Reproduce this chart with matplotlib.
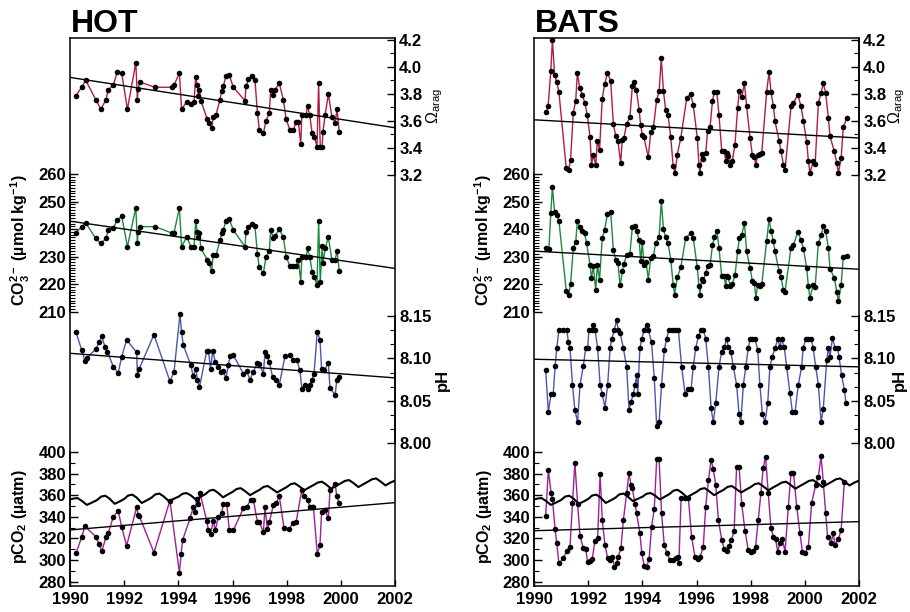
import matplotlib
matplotlib.use('Agg')
import matplotlib.pyplot as plt
import numpy as np

plt.rcParams['font.family'] = ['Liberation Sans', 'DejaVu Sans']
plt.rcParams['mathtext.fontset'] = 'custom'
plt.rcParams['mathtext.rm'] = 'Liberation Sans'
plt.rcParams['mathtext.it'] = 'Liberation Sans:italic'
plt.rcParams['mathtext.bf'] = 'Liberation Sans:bold'

# ---------------- HOT ----------------
hot_om_t = [1990.22, 1990.43, 1990.58, 1990.95, 1991.14, 1991.33, 1991.41, 1991.60, 1991.75, 1991.91,
            1992.12, 1992.43, 1992.49, 1992.51, 1992.58, 1993.14, 1993.75, 1993.84, 1994.04, 1994.12,
            1994.31, 1994.46, 1994.58, 1994.64, 1994.70, 1994.74, 1994.78, 1994.83, 1995.07, 1995.14,
            1995.23, 1995.29, 1995.39, 1995.54, 1995.60, 1995.66, 1995.76, 1995.88, 1996.03, 1996.46,
            1996.50, 1996.59, 1996.71, 1996.83, 1996.92, 1996.99, 1997.14, 1997.24, 1997.36, 1997.41,
            1997.51, 1997.56, 1997.73, 1997.88, 1997.98, 1998.12, 1998.25, 1998.35, 1998.43, 1998.52,
            1998.56, 1998.72, 1998.77, 1998.85, 1998.94, 1999.02, 1999.12, 1999.18, 1999.24, 1999.31,
            1999.34, 1999.42, 1999.54, 1999.67, 1999.79, 1999.86, 1999.94]
hot_omega = [3.786, 3.848, 3.90, 3.757, 3.685, 3.757, 3.828, 3.865, 3.964, 3.951,
             3.685, 4.030, 3.753, 3.833, 3.887, 3.848, 3.848, 3.865, 3.951, 3.685,
             3.741, 3.724, 3.741, 3.922, 3.865, 3.786, 3.828, 3.749, 3.611, 3.581,
             3.544, 3.630, 3.643, 3.757, 3.823, 3.857, 3.931, 3.939, 3.848, 3.749,
             3.857, 3.906, 3.931, 3.90, 3.660, 3.532, 3.507, 3.600, 3.660, 3.828,
             3.791, 3.828, 3.877, 3.753, 3.611, 3.532, 3.532, 3.593, 3.593, 3.428,
             3.643, 3.643, 3.71, 3.643, 3.507, 3.482, 3.408, 3.877, 3.408, 3.408,
             3.519, 3.643, 3.798, 3.630, 3.586, 3.685, 3.519]
hot_co3 = [238.6, 240.9, 242.3, 236.6, 234.8, 236.6, 239.7, 240.5, 243.3, 244.7,
           233.6, 247.8, 234.8, 239.0, 240.9, 240.9, 238.6, 238.6, 247.8, 233.6,
           237.2, 233.6, 233.6, 242.9, 239.0, 237.0, 238.4, 233.0, 228.9, 227.5,
           224.8, 230.5, 230.5, 236.0, 238.4, 239.7, 243.0, 243.6, 239.7, 233.6,
           239.0, 240.9, 242.0, 241.0, 230.9, 226.2, 223.9, 230.0, 232.1, 239.7,
           236.6, 237.4, 239.9, 237.0, 230.0, 226.5, 226.5, 226.5, 228.9, 220.8,
           230.0, 230.0, 233.0, 230.0, 224.5, 222.7, 219.6, 243.0, 220.8, 233.8,
           227.5, 233.0, 237.0, 228.9, 228.8, 232.1, 224.8]

hot_ph_t = [1990.22, 1990.43, 1990.55, 1990.64, 1990.95, 1991.08, 1991.17, 1991.29, 1991.38, 1991.60,
            1991.78, 1991.91, 1992.09, 1992.46, 1992.49, 1992.56, 1993.10, 1993.69, 1993.84, 1994.06,
            1994.12, 1994.18, 1994.46, 1994.55, 1994.65, 1994.70, 1994.78, 1995.05, 1995.11, 1995.19,
            1995.27, 1995.36, 1995.48, 1995.57, 1995.64, 1995.76, 1995.85, 1995.91, 1996.03, 1996.40,
            1996.52, 1996.65, 1996.77, 1996.92, 1996.99, 1997.14, 1997.20, 1997.26, 1997.36, 1997.48,
            1997.61, 1997.73, 1997.94, 1998.12, 1998.25, 1998.37, 1998.49, 1998.56, 1998.68, 1998.77,
            1998.86, 1998.92, 1999.01, 1999.13, 1999.23, 1999.29, 1999.38, 1999.54, 1999.60, 1999.79,
            1999.85, 1999.94]
hot_ph = [8.131, 8.110, 8.097, 8.101, 8.111, 8.119, 8.126, 8.114, 8.108, 8.090,
          8.083, 8.102, 8.122, 8.107, 8.080, 8.088, 8.128, 8.073, 8.084, 8.152,
          8.131, 8.116, 8.092, 8.079, 8.088, 8.075, 8.066, 8.109, 8.109, 8.088,
          8.109, 8.096, 8.090, 8.084, 8.085, 8.077, 8.092, 8.103, 8.104, 8.082,
          8.085, 8.075, 8.084, 8.095, 8.093, 8.082, 8.108, 8.103, 8.096, 8.078,
          8.075, 8.069, 8.103, 8.104, 8.098, 8.098, 8.086, 8.064, 8.069, 8.064,
          8.069, 8.074, 8.082, 8.131, 8.122, 8.087, 8.086, 8.094, 8.065, 8.057,
          8.074, 8.078]

hot_pco2_t = [1990.22, 1990.43, 1990.55, 1990.95, 1991.08, 1991.17, 1991.33, 1991.41, 1991.60, 1991.78,
              1991.91, 1992.09, 1992.46, 1992.52, 1992.56, 1993.10, 1993.69, 1994.04, 1994.10, 1994.16,
              1994.43, 1994.55, 1994.62, 1994.68, 1994.74, 1994.80, 1995.05, 1995.11, 1995.19, 1995.29,
              1995.36, 1995.48, 1995.60, 1995.66, 1995.79, 1995.88, 1996.03, 1996.40, 1996.52, 1996.67,
              1996.77, 1996.92, 1996.99, 1997.14, 1997.20, 1997.29, 1997.36, 1997.51, 1997.61, 1997.73,
              1997.90, 1998.10, 1998.22, 1998.35, 1998.56, 1998.64, 1998.77, 1998.86, 1998.92, 1998.99,
              1999.13, 1999.23, 1999.29, 1999.42, 1999.54, 1999.60, 1999.79, 1999.85, 1999.94]
hot_pco2 = [306.0, 321.1, 331.1, 321.7, 314.8, 307.9, 321.1, 324.8, 339.9, 345.6,
            330.5, 313.2, 348.8, 341.5, 340.6, 306.9, 355.0, 288.0, 305.3, 318.6,
            338.4, 348.8, 344.6, 356.3, 351.9, 362.0, 336.2, 327.4, 324.2, 336.2,
            327.4, 339.9, 343.1, 351.9, 351.9, 327.4, 327.4, 347.9, 348.8, 355.7,
            355.7, 335.2, 335.2, 325.8, 348.8, 328.9, 335.2, 350.9, 352.5, 358.8,
            329.9, 328.9, 334.2, 335.2, 365.1, 358.8, 355.7, 348.8, 348.8, 348.8,
            305.3, 314.2, 344.6, 346.2, 338.4, 364.4, 370.8, 358.8, 352.5]

hot_trend_omega = [3.921, 3.548]
hot_trend_co3 = [242.9, 225.7]
hot_trend_ph = [8.106, 8.077]
hot_trend_pco2 = [327.8, 353.1]

# ---------------- BATS ----------------
bats_om_t = [1990.46, 1990.52, 1990.62, 1990.68, 1990.76, 1990.84, 1990.92, 1991.19, 1991.28, 1991.35,
             1991.45, 1991.54, 1991.60, 1991.69, 1991.78, 1991.88, 1991.97, 1992.07, 1992.12, 1992.19,
             1992.28, 1992.34, 1992.42, 1992.52, 1992.61, 1992.71, 1992.83, 1992.93, 1993.02, 1993.10,
             1993.20, 1993.26, 1993.32, 1993.42, 1993.54, 1993.63, 1993.69, 1993.78, 1993.88, 1993.94,
             1994.00, 1994.06, 1994.22, 1994.31, 1994.41, 1994.53, 1994.62, 1994.70, 1994.78, 1994.86,
             1994.95, 1995.05, 1995.14, 1995.21, 1995.29, 1995.42, 1995.64, 1995.78, 1995.88, 1996.03,
             1996.09, 1996.13, 1996.19, 1996.25, 1996.34, 1996.41, 1996.50, 1996.59, 1996.66, 1996.75,
             1996.83, 1996.93, 1997.02, 1997.08, 1997.11, 1997.18, 1997.24, 1997.32, 1997.42, 1997.52,
             1997.58, 1997.67, 1997.77, 1997.85, 1997.98, 1998.06, 1998.14, 1998.19, 1998.26, 1998.35,
             1998.41, 1998.59, 1998.68, 1998.75, 1998.84, 1998.90, 1999.05, 1999.12, 1999.21, 1999.27,
             1999.49, 1999.58, 1999.74, 1999.86, 1999.95, 2000.07, 2000.13, 2000.19, 2000.31, 2000.38,
             2000.50, 2000.60, 2000.68, 2000.77, 2000.87, 2000.93, 2001.09, 2001.18, 2001.24, 2001.34,
             2001.42, 2001.55]
bats_omega = [3.664, 3.706, 3.966, 4.200, 3.941, 3.887, 3.813, 3.250, 3.232, 3.311,
              3.657, 3.748, 3.953, 3.842, 3.793, 3.731, 3.640, 3.477, 3.274, 3.344,
              3.274, 3.452, 3.385, 3.763, 3.872, 3.953, 3.897, 3.576, 3.484, 3.447,
              3.287, 3.459, 3.472, 3.576, 3.625, 3.854, 3.887, 3.830, 3.682, 3.566,
              3.497, 3.477, 3.329, 3.516, 3.551, 3.756, 3.818, 4.064, 3.818, 3.682,
              3.640, 3.477, 3.262, 3.213, 3.349, 3.472, 3.768, 3.798, 3.719, 3.472,
              3.274, 3.213, 3.353, 3.319, 3.361, 3.526, 3.551, 3.748, 3.813, 3.813,
              3.645, 3.378, 3.373, 3.304, 3.361, 3.336, 3.274, 3.299, 3.422, 3.694,
              3.818, 3.773, 3.879, 3.706, 3.472, 3.349, 3.329, 3.274, 3.344, 3.353,
              3.361, 3.813, 3.961, 3.813, 3.706, 3.595, 3.452, 3.373, 3.274, 3.237,
              3.706, 3.731, 3.793, 3.706, 3.595, 3.442, 3.304, 3.213, 3.299, 3.279,
              3.731, 3.805, 3.879, 3.805, 3.620, 3.484, 3.373, 3.287, 3.213, 3.324,
              3.551, 3.620]

bats_co3_t = [1990.46, 1990.55, 1990.62, 1990.68, 1990.76, 1990.84, 1990.92, 1991.19, 1991.28, 1991.35,
              1991.45, 1991.54, 1991.60, 1991.69, 1991.78, 1991.87, 1991.94, 1992.07, 1992.12, 1992.19,
              1992.28, 1992.34, 1992.42, 1992.52, 1992.61, 1992.71, 1992.83, 1992.93, 1993.02, 1993.10,
              1993.18, 1993.26, 1993.32, 1993.42, 1993.54, 1993.63, 1993.72, 1993.79, 1993.88, 1993.94,
              1994.00, 1994.06, 1994.14, 1994.22, 1994.31, 1994.41, 1994.49, 1994.62, 1994.70, 1994.78,
              1994.86, 1994.95, 1995.05, 1995.14, 1995.19, 1995.29, 1995.42, 1995.60, 1995.78, 1995.88,
              1996.03, 1996.09, 1996.13, 1996.19, 1996.25, 1996.34, 1996.41, 1996.50, 1996.59, 1996.66,
              1996.75, 1996.83, 1996.93, 1997.02, 1997.08, 1997.11, 1997.18, 1997.24, 1997.32, 1997.42,
              1997.52, 1997.58, 1997.67, 1997.77, 1997.85, 1997.98, 1998.06, 1998.14, 1998.19, 1998.26,
              1998.35, 1998.41, 1998.59, 1998.68, 1998.75, 1998.84, 1998.90, 1999.05, 1999.12, 1999.21,
              1999.27, 1999.49, 1999.58, 1999.74, 1999.86, 1999.95, 2000.07, 2000.13, 2000.19, 2000.31,
              2000.38, 2000.50, 2000.60, 2000.68, 2000.77, 2000.87, 2000.93, 2001.09, 2001.18, 2001.24,
              2001.34, 2001.42, 2001.55]
bats_co3 = [233.3, 232.8, 245.8, 255.2, 246.2, 245.2, 243.0, 217.6, 216.1, 220.0,
            233.1, 235.3, 243.0, 240.6, 239.4, 238.5, 234.9, 227.0, 222.2, 226.4,
            217.9, 227.0, 221.6, 236.7, 239.8, 245.5, 246.4, 232.5, 228.8, 227.6,
            219.5, 224.6, 227.3, 230.7, 230.9, 240.6, 241.0, 239.4, 236.1, 228.5,
            235.3, 227.0, 228.0, 221.6, 229.5, 230.1, 234.9, 237.0, 250.3, 240.1,
            237.0, 234.9, 228.8, 219.8, 216.1, 222.4, 226.1, 236.7, 238.5, 236.7,
            226.1, 219.2, 216.1, 221.9, 221.2, 224.0, 226.4, 226.8, 234.1, 237.0,
            239.4, 233.3, 222.8, 222.8, 219.2, 222.8, 222.4, 219.2, 220.0, 223.2,
            231.9, 236.7, 237.9, 242.2, 231.9, 225.8, 221.2, 220.4, 214.9, 219.8,
            219.2, 220.0, 235.5, 243.8, 239.4, 235.5, 231.9, 224.6, 222.4, 217.9,
            217.3, 233.3, 234.3, 238.9, 236.1, 232.8, 225.8, 219.2, 214.9, 219.8,
            218.8, 234.9, 237.7, 241.0, 239.2, 233.1, 225.6, 222.2, 217.3, 213.7,
            219.8, 229.7, 230.1]

bats_ph_t = [1990.43, 1990.53, 1990.63, 1990.71, 1990.78, 1990.84, 1990.92, 1991.08, 1991.21, 1991.27,
             1991.33, 1991.42, 1991.51, 1991.61, 1991.70, 1991.82, 1991.91, 1991.98, 1992.03, 1992.13,
             1992.19, 1992.25, 1992.35, 1992.44, 1992.52, 1992.62, 1992.72, 1992.81, 1992.87, 1992.97,
             1993.05, 1993.11, 1993.18, 1993.30, 1993.42, 1993.51, 1993.58, 1993.67, 1993.73, 1993.79,
             1993.83, 1993.91, 1993.98, 1994.07, 1994.16, 1994.22, 1994.34, 1994.44, 1994.53, 1994.62,
             1994.71, 1994.81, 1994.90, 1994.98, 1995.08, 1995.21, 1995.33, 1995.45, 1995.58, 1995.70,
             1995.80, 1995.88, 1995.97, 1996.07, 1996.17, 1996.25, 1996.34, 1996.44, 1996.54, 1996.62,
             1996.71, 1996.83, 1996.93, 1997.03, 1997.11, 1997.18, 1997.27, 1997.36, 1997.48, 1997.57,
             1997.64, 1997.73, 1997.82, 1997.91, 1997.98, 1998.06, 1998.16, 1998.26, 1998.34, 1998.43,
             1998.53, 1998.63, 1998.71, 1998.80, 1998.90, 1999.00, 1999.08, 1999.14, 1999.24, 1999.33,
             1999.45, 1999.54, 1999.64, 1999.76, 1999.88, 1999.94, 2000.03, 2000.13, 2000.23, 2000.31,
             2000.40, 2000.50, 2000.60, 2000.68, 2000.81, 2000.87, 2000.93, 2001.02, 2001.12, 2001.21,
             2001.26, 2001.36, 2001.46, 2001.52]
bats_ph = [8.086, 8.037, 8.058, 8.058, 8.091, 8.112, 8.134, 8.134, 8.134, 8.119,
           8.112, 8.069, 8.039, 8.025, 8.069, 8.091, 8.112, 8.112, 8.134, 8.134,
           8.139, 8.134, 8.112, 8.069, 8.058, 8.042, 8.069, 8.112, 8.123, 8.134,
           8.145, 8.134, 8.130, 8.112, 8.090, 8.039, 8.049, 8.058, 8.069, 8.080,
           8.058, 8.112, 8.123, 8.134, 8.139, 8.134, 8.119, 8.077, 8.020, 8.025,
           8.069, 8.110, 8.123, 8.134, 8.134, 8.134, 8.134, 8.090, 8.058, 8.064,
           8.064, 8.090, 8.112, 8.126, 8.134, 8.134, 8.123, 8.090, 8.041, 8.025,
           8.047, 8.090, 8.108, 8.113, 8.123, 8.113, 8.108, 8.090, 8.069, 8.035,
           8.025, 8.069, 8.090, 8.112, 8.123, 8.123, 8.123, 8.110, 8.069, 8.035,
           8.025, 8.047, 8.090, 8.102, 8.112, 8.123, 8.113, 8.123, 8.113, 8.090,
           8.059, 8.037, 8.037, 8.069, 8.090, 8.112, 8.123, 8.123, 8.123, 8.112,
           8.090, 8.069, 8.025, 8.040, 8.098, 8.112, 8.102, 8.124, 8.112, 8.112,
           8.102, 8.080, 8.063, 8.047]

bats_pco2_t = [1990.43, 1990.53, 1990.63, 1990.68, 1990.78, 1990.84, 1990.92, 1991.08, 1991.21, 1991.33,
               1991.42, 1991.51, 1991.61, 1991.70, 1991.82, 1991.91, 1991.98, 1992.07, 1992.15, 1992.25,
               1992.35, 1992.44, 1992.52, 1992.62, 1992.72, 1992.81, 1992.89, 1992.97, 1993.05, 1993.11,
               1993.21, 1993.30, 1993.42, 1993.51, 1993.58, 1993.63, 1993.73, 1993.79, 1993.91, 1993.98,
               1994.07, 1994.16, 1994.25, 1994.34, 1994.44, 1994.53, 1994.62, 1994.71, 1994.81, 1994.90,
               1995.02, 1995.14, 1995.23, 1995.30, 1995.35, 1995.43, 1995.58, 1995.70, 1995.82, 1995.94,
               1996.04, 1996.13, 1996.25, 1996.34, 1996.44, 1996.54, 1996.62, 1996.71, 1996.81, 1996.93,
               1997.03, 1997.11, 1997.20, 1997.29, 1997.39, 1997.48, 1997.57, 1997.67, 1997.79, 1997.91,
               1998.01, 1998.10, 1998.18, 1998.28, 1998.38, 1998.46, 1998.55, 1998.65, 1998.75, 1998.84,
               1998.92, 1999.00, 1999.08, 1999.17, 1999.27, 1999.39, 1999.49, 1999.58, 1999.70, 1999.82,
               1999.91, 2000.01, 2000.13, 2000.25, 2000.40, 2000.50, 2000.60, 2000.68, 2000.77, 2000.84,
               2000.97, 2001.05, 2001.11, 2001.24, 2001.34, 2001.46]
bats_pco2 = [340.7, 383.3, 362.3, 356.2, 328.4, 315.4, 296.9, 301.5, 308.6, 312.3,
             352.5, 390.1, 351.9, 322.2, 310.8, 309.9, 298.5, 299.4, 300.6, 317.9,
             320.1, 379.6, 337.0, 313.9, 301.5, 300.0, 303.1, 293.2, 297.5, 303.1,
             310.8, 337.0, 361.7, 380.9, 369.4, 366.4, 351.9, 343.2, 324.7, 306.2,
             294.4, 293.8, 300.6, 330.9, 346.9, 393.2, 393.2, 343.2, 313.9, 306.8,
             300.0, 300.0, 301.5, 303.1, 297.5, 357.1, 357.1, 357.1, 321.6, 303.1,
             300.6, 302.5, 312.3, 349.4, 374.1, 392.6, 384.0, 369.4, 337.0, 318.5,
             309.9, 308.6, 313.0, 318.5, 327.2, 386.4, 386.4, 351.9, 327.2, 309.3,
             307.7, 308.6, 312.3, 337.0, 362.3, 384.9, 395.7, 361.7, 329.3, 321.6,
             319.1, 307.7, 316.0, 319.1, 307.7, 349.4, 380.2, 380.9, 349.4, 324.7,
             307.7, 306.2, 312.3, 352.5, 369.4, 377.2, 396.3, 372.5, 343.2, 321.6,
             316.0, 325.3, 313.9, 319.1, 327.8, 372.5]

bats_trend_omega = [3.607, 3.472]
bats_trend_co3 = [232.0, 225.4]
bats_trend_ph = [8.099, 8.090]
bats_trend_pco2 = [327.1, 335.5]

# atmospheric CO2 (same curve on both panels)
atm_t = [1990.00, 1990.15, 1990.28, 1990.45, 1990.62, 1990.80,
         1991.00, 1991.15, 1991.30, 1991.45, 1991.65, 1991.82,
         1992.00, 1992.15, 1992.30, 1992.45, 1992.65, 1992.82,
         1993.00, 1993.15, 1993.30, 1993.45, 1993.65, 1993.82,
         1994.00, 1994.15, 1994.30, 1994.45, 1994.65, 1994.82,
         1995.00, 1995.15, 1995.30, 1995.45, 1995.65, 1995.82,
         1996.00, 1996.15, 1996.30, 1996.45, 1996.65, 1996.82,
         1997.00, 1997.15, 1997.30, 1997.45, 1997.65, 1997.82,
         1998.00, 1998.15, 1998.30, 1998.45, 1998.65, 1998.82,
         1999.00, 1999.15, 1999.30, 1999.45, 1999.65, 1999.82,
         2000.00, 2000.15, 2000.30, 2000.45, 2000.65, 2000.82,
         2001.00, 2001.15, 2001.30, 2001.45, 2001.65, 2001.82,
         2002.00]
atm_co2 = [356.0, 357.0, 357.3, 354.5, 351.0, 353.0,
           355.5, 358.7, 359.5, 357.0, 352.0, 354.0,
           356.5, 359.7, 360.5, 358.0, 352.8, 355.0,
           357.5, 360.7, 361.5, 359.0, 354.5, 356.5,
           358.5, 361.2, 362.0, 360.0, 356.0, 358.5,
           361.0, 364.2, 365.0, 362.5, 358.0, 360.5,
           363.0, 365.7, 366.5, 364.0, 360.0, 362.5,
           365.0, 367.7, 368.5, 366.0, 362.5, 365.0,
           367.5, 370.2, 371.0, 368.5, 364.5, 367.0,
           369.5, 371.7, 372.5, 370.0, 366.0, 368.5,
           371.0, 373.2, 374.0, 371.5, 367.5, 370.0,
           372.5, 374.7, 375.5, 373.0, 369.0, 371.5,
           373.5]

trend_years = [1990, 2002]

W, H = 910, 612
fig = plt.figure(figsize=(W / 100, H / 100), dpi=100)

c_om = '#b01e3c'
c_co3 = '#1c8a3c'
c_ph = '#4b56b2'
c_pco2 = '#9d1f9b'


def band(rect, side, ylim, ticks, minor, fmt):
    ax = fig.add_axes(rect)
    ax.patch.set_visible(False)
    ax.set_xlim(1990, 2002)
    ax.set_ylim(*ylim)
    ax.xaxis.set_visible(False)
    for s in ['top', 'bottom', 'left', 'right']:
        ax.spines[s].set_visible(False)
    ax.spines[side].set_visible(True)
    ax.spines[side].set_linewidth(1.1)
    ax.spines[side].set_bounds(min(ticks + minor), max(ticks + minor))
    ax.yaxis.set_ticks_position(side)
    ax.set_yticks(ticks)
    ax.set_yticks(minor, minor=True)
    ax.set_yticklabels([fmt % v for v in ticks], fontweight='bold')
    ax.tick_params(axis='y', which='major', direction='in', length=6, width=1, pad=3, labelsize=12)
    ax.tick_params(axis='y', which='minor', direction='in', length=3.5, width=0.8)
    return ax


def series(ax, t, v, col):
    ax.plot(t, v, '-', color=col, lw=1.0, zorder=2)
    ax.plot(t, v, 'o', color='k', ms=4.0, mew=0, zorder=3)


def panel(left, title, om_t, om, co3_t, co3, ph_t, ph, pc_t, pc, tr_om, tr_co3, tr_ph, tr_pc,
          om_lab_x, ph_lab_x):
    rect = [left / W, (H - 586) / H, 325 / W, 548 / H]
    base = fig.add_axes(rect)
    base.set_xlim(1990, 2002)
    base.set_ylim(0, 1)
    base.set_yticks([])
    base.set_xticks(range(1990, 2003, 2))
    base.set_xticklabels([str(y) for y in range(1990, 2003, 2)], fontweight='bold')
    base.tick_params(axis='x', direction='in', length=4, width=1, pad=4, labelsize=12)
    for s in base.spines.values():
        s.set_linewidth(1.1)

    a1 = band(rect, 'right', (0.153, 4.213), [3.2, 3.4, 3.6, 3.8, 4.0, 4.2],
              list(np.arange(3.3, 4.15, 0.2)), '%.1f')
    series(a1, om_t, om, c_om)
    a1.plot(trend_years, tr_om, 'k-', lw=1.0, zorder=4)

    a2 = band(rect, 'left', (110.2, 309.5), [210, 220, 230, 240, 250, 260],
              list(range(211, 260)), '%d')
    series(a2, co3_t, co3, c_co3)
    a2.plot(trend_years, tr_co3, 'k-', lw=1.0, zorder=4)

    a3 = band(rect, 'right', (7.8316, 8.4778), [8.00, 8.05, 8.10, 8.15],
              [8.0 + k * 0.05 / 3 for k in range(1, 9) if k % 3], '%.2f')
    series(a3, ph_t, ph, c_ph)
    a3.plot(trend_years, tr_ph, 'k-', lw=1.0, zorder=4)

    a4 = band(rect, 'left', (275.9, 783.3), [280, 300, 320, 340, 360, 380, 400],
              [290, 310, 330, 350, 370, 390], '%d')
    a4.plot(atm_t, atm_co2, 'k-', lw=1.5, zorder=4)
    series(a4, pc_t, pc, c_pco2)
    a4.plot(trend_years, tr_pc, 'k-', lw=1.0, zorder=4)

    fig.text((left + 1) / W, 1 - 32 / H, title, fontsize=23, fontweight='bold',
             ha='left', va='baseline')
    fig.text((left - 50) / W, 1 - 240 / H,
             r'CO$_\mathbf{3}^{\mathbf{2-}}$ (µmol kg$^{\mathbf{-1}}$)', rotation=90,
             fontsize=11.5, fontweight='bold', ha='center', va='center')
    fig.text((left - 50) / W, 1 - 517 / H, r'pCO$_\mathbf{2}$ (µatm)', rotation=90,
             fontsize=11.5, fontweight='bold', ha='center', va='center')
    fig.text(om_lab_x / W, 1 - 106 / H, r'$\Omega_{\mathrm{arag}}$', rotation=90,
             fontsize=11.5, ha='center', va='center')
    fig.text(ph_lab_x / W, 1 - 380 / H, 'pH', rotation=90, fontsize=12, fontweight='bold',
             ha='center', va='center')


panel(70, 'HOT', hot_om_t, hot_omega, hot_om_t, hot_co3, hot_ph_t, hot_ph, hot_pco2_t, hot_pco2,
      hot_trend_omega, hot_trend_co3, hot_trend_ph, hot_trend_pco2, 435, 442)
panel(534, 'BATS', bats_om_t, bats_omega, bats_co3_t, bats_co3, bats_ph_t, bats_ph, bats_pco2_t, bats_pco2,
      bats_trend_omega, bats_trend_co3, bats_trend_ph, bats_trend_pco2, 897, 899)

fig.savefig('out.png', dpi=100)
